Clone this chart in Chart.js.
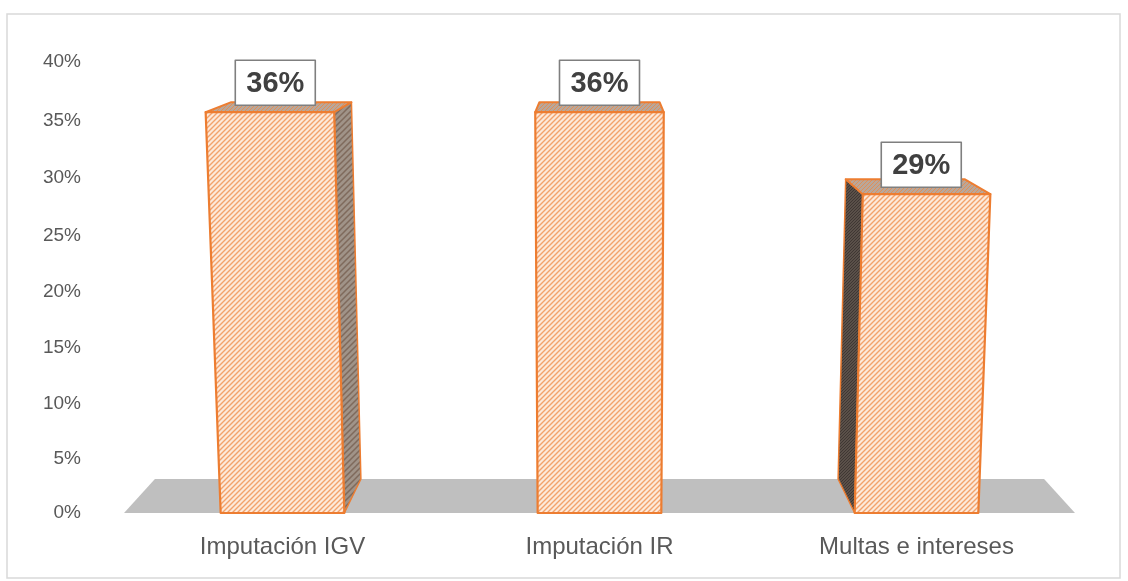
<!DOCTYPE html>
<html>
<head>
<meta charset="utf-8">
<script src="https://cdn.jsdelivr.net/npm/chart.js@4/dist/chart.umd.min.js"></script>
<style>
  body { margin: 0; background: #fff; }
  canvas { display: block; }
</style>
</head>
<body>
<canvas id="chart" width="1128" height="581"></canvas>
<script>
const categories = ["Imputación IGV", "Imputación IR", "Multas e intereses"];
const values = [35.7, 35.7, 28.6];
const valueLabels = ["36%", "36%", "29%"];
const yTicks = [0, 5, 10, 15, 20, 25, 30, 35, 40];

const ORANGE = "#ED7D31";
const FONT = "'Liberation Sans', Arial, sans-serif";

//the picture is a 3D column chart, so the value axis is slightly bent
class PerspectiveScale extends Chart.LinearScale {
  getPixelForValue(value) {
    const t = (value - this.min) / (this.max - this.min);
    return this.getPixelForDecimal(t - 0.04 * t * (1 - t));
  }
}
PerspectiveScale.id = "perspective";
PerspectiveScale.defaults = Chart.LinearScale.defaults;
Chart.register(PerspectiveScale);

function hatch(bg, line, size, width) {
  const c = document.createElement("canvas");
  c.width = c.height = size;
  const g = c.getContext("2d");
  g.fillStyle = bg;
  g.fillRect(0, 0, size, size);
  g.strokeStyle = line;
  g.lineWidth = width;
  g.beginPath();
  g.moveTo(-1, 1); g.lineTo(1, -1);
  g.moveTo(0, size); g.lineTo(size, 0);
  g.moveTo(size - 1, size + 1); g.lineTo(size + 1, size - 1);
  g.stroke();
  return g.createPattern(c, "repeat");
}

function poly(ctx, pts, fill, lineWidth) {
  ctx.beginPath();
  pts.forEach((p, i) => (i ? ctx.lineTo(p[0], p[1]) : ctx.moveTo(p[0], p[1])));
  ctx.closePath();
  ctx.fillStyle = fill;
  ctx.fill();
  ctx.strokeStyle = ORANGE;
  ctx.lineWidth = lineWidth;
  ctx.lineJoin = "round";
  ctx.stroke();
}

const box3d = {
  id: "box3d",
  beforeDraw(chart) {
    const ctx = chart.ctx;
    //outer frame
    ctx.save();
    ctx.strokeStyle = "#D9D9D9";
    ctx.lineWidth = 1.5;
    ctx.strokeRect(7, 14, 1113, 564);
    ctx.restore();
  },
  beforeDatasetsDraw(chart) {
    const ctx = chart.ctx;
    const a = chart.chartArea;
    const cx = (a.left + a.right) / 2;
    const toBack = (x, y) => [cx + (x - cx) * 0.935, y - 0.0597 * (y + 56)];
    //floor
    const bl = toBack(a.left, a.bottom);
    const br = toBack(a.right, a.bottom);
    ctx.save();
    ctx.beginPath();
    ctx.moveTo(a.left, a.bottom);
    ctx.lineTo(bl[0], bl[1]);
    ctx.lineTo(br[0], br[1]);
    ctx.lineTo(a.right, a.bottom);
    ctx.closePath();
    ctx.fillStyle = "#BFBFBF";
    ctx.fill();
    ctx.restore();
  },
  afterDatasetsDraw(chart) {
    const ctx = chart.ctx;
    const a = chart.chartArea;
    const cx = (a.left + a.right) / 2;
    const toBack = (p) => [cx + (p[0] - cx) * 0.935, p[1] - 0.0597 * (p[1] + 56)];
    const front = hatch("#FDE9DA", "#F2A26C", 5, 1.4);
    const top = hatch("#B9A79A", "#E08F58", 4, 1);
    const sideLight = hatch("#A09388", "#7F6A5C", 6, 1.5);
    const sideDark = hatch("#5A5049", "#3F3733", 3, 1);

    ctx.save();
    chart.getDatasetMeta(0).data.forEach((bar, i) => {
      const half = bar.width / 2;
      const grow = 1 + 0.04 * values[i] / 36;
      const left = bar.x - half;
      const right = bar.x + half;
      const fl = [left, bar.base];
      const fr = [right, bar.base];
      const tl = [cx + (left - cx) * grow, bar.y];
      const tr = [cx + (right - cx) * grow, bar.y];

      if (right < cx) poly(ctx, [tr, toBack(tr), toBack(fr), fr], sideLight, 1.5);
      if (left > cx) poly(ctx, [tl, toBack(tl), toBack(fl), fl], sideDark, 1.5);
      poly(ctx, [tl, toBack(tl), toBack(tr), tr], top, 2);
      poly(ctx, [tl, tr, fr, fl], front, 2.2);

      //value label box
      const midFront = (tl[0] + tr[0]) / 2;
      const lx = midFront + (toBack([midFront, 0])[0] - midFront) * 0.25;
      const ly = bar.y - 30;
      ctx.fillStyle = "#fff";
      ctx.fillRect(lx - 40, ly - 22, 80, 45);
      ctx.strokeStyle = "#7F7F7F";
      ctx.lineWidth = 1.6;
      ctx.strokeRect(lx - 40, ly - 22, 80, 45);
      ctx.fillStyle = "#404040";
      ctx.font = "bold 29px " + FONT;
      ctx.textAlign = "center";
      ctx.textBaseline = "middle";
      ctx.fillText(valueLabels[i], lx, ly + 2);
    });
    ctx.restore();
  },
};

new Chart(document.getElementById("chart"), {
  type: "bar",
  plugins: [box3d],
  data: {
    labels: categories,
    datasets: [
      {
        data: values,
        backgroundColor: "rgba(0,0,0,0)",
        categoryPercentage: 1,
        barPercentage: 0.39,
      },
    ],
  },
  options: {
    responsive: false,
    animation: false,
    layout: { padding: { top: 62, right: 53, bottom: 0, left: 0 } },
    plugins: { legend: { display: false }, tooltip: { enabled: false } },
    scales: {
      y: {
        type: "perspective",
        min: 0,
        max: 40,
        afterFit: (s) => { s.width = 124; },
        afterBuildTicks: (s) => { s.ticks = yTicks.map((v) => ({ value: v })); },
        grid: { display: false, drawTicks: false },
        border: { display: false },
        ticks: {
          padding: 43,
          color: "#595959",
          font: { family: FONT, size: 19 },
          callback: (v) => v + "%",
        },
      },
      x: {
        afterFit: (s) => { s.height = 68; },
        grid: { display: false, drawTicks: false },
        border: { display: false },
        ticks: {
          padding: 20,
          maxRotation: 0,
          color: "#595959",
          font: { family: FONT, size: 24 },
        },
      },
    },
  },
});
</script>
</body>
</html>
